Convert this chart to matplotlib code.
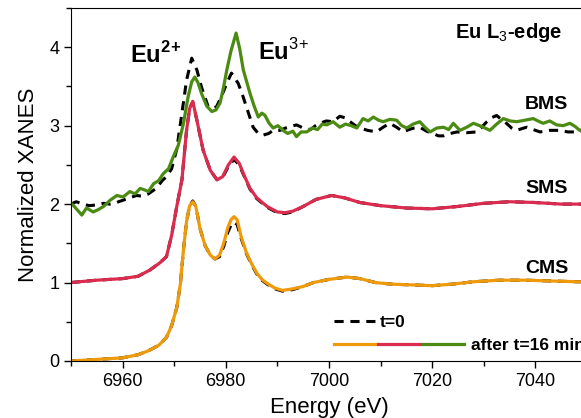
import matplotlib
matplotlib.use('Agg')
import matplotlib.pyplot as plt
from matplotlib.ticker import MultipleLocator
from matplotlib.lines import Line2D
from matplotlib.legend_handler import HandlerTuple

plt.rcParams['font.family'] = 'Liberation Sans'
plt.rcParams['mathtext.fontset'] = 'custom'
plt.rcParams['mathtext.rm'] = 'Liberation Sans'
plt.rcParams['mathtext.bf'] = 'Liberation Sans:bold'

# CMS (offset 0)
e_cms = [6950, 6955, 6960, 6963, 6965, 6967, 6968.5, 6969.5, 6970.5, 6971.2, 6971.8, 6972.4, 6973, 6973.6,
         6974.2, 6975, 6976, 6977, 6977.9, 6978.8, 6979.6, 6980.4, 6981, 6981.6, 6982.2, 6983, 6984, 6985,
         6986, 6987, 6988, 6989.5, 6991, 6993, 6995, 6997, 7000, 7003.5, 7006, 7009, 7012, 7016, 7020,
         7024, 7028, 7033, 7038, 7043, 7048, 7052]
cms_after = [0.0, 0.02, 0.04, 0.08, 0.13, 0.2, 0.3, 0.45, 0.68, 0.98, 1.42, 1.78, 1.98, 2.03,
             1.97, 1.69, 1.47, 1.35, 1.30, 1.35, 1.5, 1.7, 1.8, 1.84, 1.8, 1.58, 1.38, 1.24,
             1.12, 1.04, 0.99, 0.93, 0.90, 0.92, 0.95, 1.0, 1.04, 1.07, 1.05, 1.0, 0.98, 0.97, 0.96,
             0.98, 1.01, 1.03, 1.03, 1.02, 1.01, 1.01]
cms_t0 = [0.0, 0.02, 0.04, 0.08, 0.13, 0.2, 0.3, 0.45, 0.68, 0.98, 1.42, 1.78, 1.98, 2.04,
          1.97, 1.69, 1.47, 1.35, 1.30, 1.33, 1.46, 1.64, 1.73, 1.77, 1.74, 1.56, 1.37, 1.23,
          1.11, 1.03, 0.98, 0.92, 0.89, 0.91, 0.95, 1.0, 1.04, 1.07, 1.05, 1.0, 0.98, 0.97, 0.96,
          0.98, 1.01, 1.03, 1.03, 1.02, 1.01, 1.01]

# SMS (offset 1)
e_sms = [6950, 6955, 6960, 6963, 6965.3, 6967.2, 6968.5, 6969.5, 6970.5, 6971.5, 6972.4, 6973, 6973.6,
         6974.4, 6975.6, 6977, 6978.3, 6979.4, 6980.5, 6981.6, 6982.6, 6983.6, 6984.7, 6986, 6988,
         6990, 6991.5, 6993, 6995, 6997.5, 7000.5, 7003, 7006, 7010, 7015, 7020, 7025, 7030, 7035,
         7040, 7045, 7052]
sms_after = [1.0, 1.03, 1.05, 1.08, 1.16, 1.25, 1.33, 1.6, 1.97, 2.31, 2.94, 3.22, 3.31,
             3.07, 2.69, 2.43, 2.31, 2.35, 2.5, 2.6, 2.52, 2.36, 2.2, 2.08, 1.97,
             1.9, 1.89, 1.91, 1.97, 2.06, 2.11, 2.08, 2.02, 1.98, 1.95, 1.94, 1.97, 2.01, 2.03,
             2.02, 2.0, 2.0]
sms_t0 = [1.0, 1.03, 1.05, 1.08, 1.16, 1.25, 1.33, 1.6, 1.97, 2.31, 2.94, 3.22, 3.30,
          3.07, 2.69, 2.43, 2.31, 2.34, 2.48, 2.57, 2.5, 2.35, 2.19, 2.07, 1.96,
          1.89, 1.88, 1.90, 1.97, 2.06, 2.11, 2.08, 2.02, 1.98, 1.95, 1.94, 1.97, 2.01, 2.03,
          2.02, 2.0, 2.0]

# BMS (offset 2), after 16 min
e_bms = [6950, 6950.5, 6951.3, 6952.1, 6953, 6954.3, 6955.3, 6956.3, 6957.6, 6958.9, 6960.1, 6961.4,
         6962.4, 6963.4, 6964.3, 6965, 6966, 6967, 6967.9, 6968.9, 6969.8, 6970.8, 6971.8, 6972.7,
         6973.4, 6974, 6974.6, 6975.3, 6976.3, 6977.3, 6978.1, 6978.9, 6979.6, 6980.2, 6981, 6982,
         6982.7, 6983.4, 6984.7, 6985.5, 6986.3, 6987, 6987.6, 6988.4, 6989.2, 6990.1, 6991.1, 6992,
         6993, 6993.7, 6994.6, 6995.7, 6996.8, 6997.8, 6998.7, 6999.6, 7000.8, 7002.1, 7003.2, 7004.3,
         7005.4, 7006.6, 7007.6, 7008.6, 7009.6, 7010.5, 7011.8, 7013.1, 7014.1, 7015.1, 7016.3, 7017.6,
         7018.6, 7019.6, 7020.9, 7022.2, 7023.2, 7024.1, 7025.4, 7026.7, 7028, 7029.6, 7031.2, 7032.5,
         7033.8, 7035.1, 7036.4, 7038, 7039.6, 7040.5, 7041.5, 7042.8, 7044.1, 7045.4, 7046.7, 7047.7,
         7048.6, 7050]
bms_after = [2.01, 1.98, 1.92, 1.86, 1.95, 1.90, 1.93, 1.97, 2.05, 2.11, 2.09, 2.16,
             2.13, 2.20, 2.18, 2.16, 2.26, 2.30, 2.39, 2.45, 2.60, 2.75, 3.03, 3.37,
             3.56, 3.62, 3.55, 3.41, 3.25, 3.18, 3.20, 3.29, 3.5, 3.71, 3.95, 4.18,
             3.98, 3.71, 3.41, 3.25, 3.11, 3.16, 3.13, 3.03, 2.97, 3.0, 2.94, 2.90,
             2.93, 2.86, 2.92, 2.92, 2.97, 2.95, 3.02, 3.01, 3.05, 2.98, 3.02, 3.0,
             2.97, 3.09, 3.06, 3.11, 3.07, 3.05, 3.08, 3.07, 3.0, 2.97, 3.02, 3.05,
             2.98, 2.92, 2.97, 2.98, 2.95, 3.03, 2.94, 2.98, 3.03, 2.99, 2.94, 3.02,
             3.09, 3.06, 3.05, 3.07, 3.09, 3.06, 3.03, 3.06, 3.01, 3.0, 3.03, 2.99,
             2.94, 2.97]

# BMS t=0
e_bms_t0 = [6950, 6951, 6952.4, 6953.5, 6955, 6956.3, 6957.6, 6958.8, 6960.1, 6961.4, 6962.7, 6963.8,
            6965, 6966.5, 6967.7, 6968.5, 6969.5, 6970.5, 6971.5, 6972.4, 6973.4, 6974.4, 6975.3, 6976.6,
            6977.4, 6978.2, 6979.2, 6980.2, 6981.1, 6982.4, 6983.2, 6984, 6985.3, 6986.3, 6987.3, 6988.3,
            6989.2, 6990.5, 6991.6, 6992.7, 6993.7, 6995, 6996.4, 6997.4, 6998.2, 6999.5, 7000.8, 7002.1,
            7003.1, 7004.1, 7005.1, 7006, 7007.5, 7009.2, 7010.5, 7011.8, 7013.1, 7014.4, 7015.5, 7016.5,
            7017.6, 7018.9, 7020.2, 7021.2, 7022.2, 7023.5, 7024.8, 7026.7, 7028.6, 7029.6, 7030.6, 7031.5,
            7032.5, 7033.4, 7034.4, 7035.4, 7036.4, 7037.3, 7038.3, 7039.6, 7040.9, 7042.8, 7044.7, 7046.3,
            7047.9, 7050]
bms_t0 = [2.0, 2.03, 2.0, 1.98, 1.99, 2.01, 2.0, 2.02, 2.05, 2.08, 2.11, 2.1,
          2.13, 2.2, 2.3, 2.35, 2.45, 2.7, 3.16, 3.58, 3.86, 3.71, 3.49, 3.24,
          3.22, 3.24, 3.38, 3.54, 3.67, 3.54, 3.4, 3.24, 2.98, 2.9, 2.88, 2.9,
          2.94, 2.94, 2.97, 2.99, 3.01, 2.97, 2.95, 3.0, 3.03, 3.06, 3.05, 3.12,
          3.1, 3.05, 3.0, 2.97, 2.94, 2.92, 2.98, 3.03, 2.98, 2.92, 2.95, 2.97,
          2.98, 2.93, 2.9, 2.87, 2.87, 2.9, 2.92, 2.91, 2.92, 2.98, 3.05, 3.1,
          3.13, 3.08, 3.03, 2.97, 2.94, 2.96, 2.98, 2.95, 2.92, 2.94, 2.94, 2.92,
          2.92, 2.93]

c_cms = '#EE9A0A'
c_sms = '#DB2B4F'
c_bms = '#4B8B12'

fig = plt.figure(figsize=(5.81, 4.18), dpi=100)
ax = fig.add_axes([0.1222, 0.1364, 0.888, 0.8445])

dash = dict(color='black', lw=2.2, dashes=(3, 2.2))
ax.plot(e_cms, cms_t0, **dash)
ax.plot(e_sms, sms_t0, **dash)
ax.plot(e_bms_t0, bms_t0, **dash)
ax.plot(e_cms, cms_after, color=c_cms, lw=2.3)
ax.plot(e_sms, sms_after, color=c_sms, lw=2.3)
ax.plot(e_bms, bms_after, color=c_bms, lw=2.3)

ax.set_xlim(6950, 7050)
ax.set_ylim(0, 4.5)
ax.xaxis.set_major_locator(MultipleLocator(20))
ax.xaxis.set_minor_locator(MultipleLocator(10))
ax.yaxis.set_major_locator(MultipleLocator(1))
ax.yaxis.set_minor_locator(MultipleLocator(0.5))
ax.tick_params(which='both', direction='out', labelsize=13, width=1)
ax.tick_params(which='major', length=5)
ax.tick_params(which='minor', length=3.5)
ax.set_xlabel('Energy (eV)', fontsize=16, labelpad=5)
ax.set_ylabel('Normalized XANES', fontsize=16, labelpad=7)

ax.text(0.114, 0.844, r'Eu$^{\mathbf{2\!+}}$', transform=ax.transAxes, fontsize=17, fontweight='bold')
ax.text(0.362, 0.853, r'Eu$^{3\!+}$', transform=ax.transAxes, fontsize=17, fontweight='bold')
ax.text(0.745, 0.915, r'Eu L$_3$-edge', transform=ax.transAxes, fontsize=14.5, fontweight='bold')
ax.text(0.88, 0.714, 'BMS', transform=ax.transAxes, fontsize=14, fontweight='bold')
ax.text(0.88, 0.476, 'SMS', transform=ax.transAxes, fontsize=14, fontweight='bold')
ax.text(0.88, 0.249, 'CMS', transform=ax.transAxes, fontsize=14, fontweight='bold')

h_t0 = Line2D([], [], **dash)
leg1 = ax.legend([h_t0], ['t=0'], loc='center left', bbox_to_anchor=(0.51, 0.108), frameon=False,
                 handlelength=2.4, handletextpad=0.25, borderpad=0, borderaxespad=0,
                 prop={'weight': 'bold', 'size': 12.5})
ax.add_artist(leg1)
h_after = (Line2D([], [], color=c_cms, lw=2.3), Line2D([], [], color=c_sms, lw=2.3),
           Line2D([], [], color=c_bms, lw=2.3))
ax.legend([h_after], ['after t=16 min'], loc='center left', bbox_to_anchor=(0.51, 0.045), frameon=False,
          handlelength=7.5, handletextpad=0.4, borderpad=0, borderaxespad=0,
          handler_map={tuple: HandlerTuple(ndivide=None, pad=0.1)},
          prop={'weight': 'bold', 'size': 12.5})

fig.savefig('out.png', dpi=100)
